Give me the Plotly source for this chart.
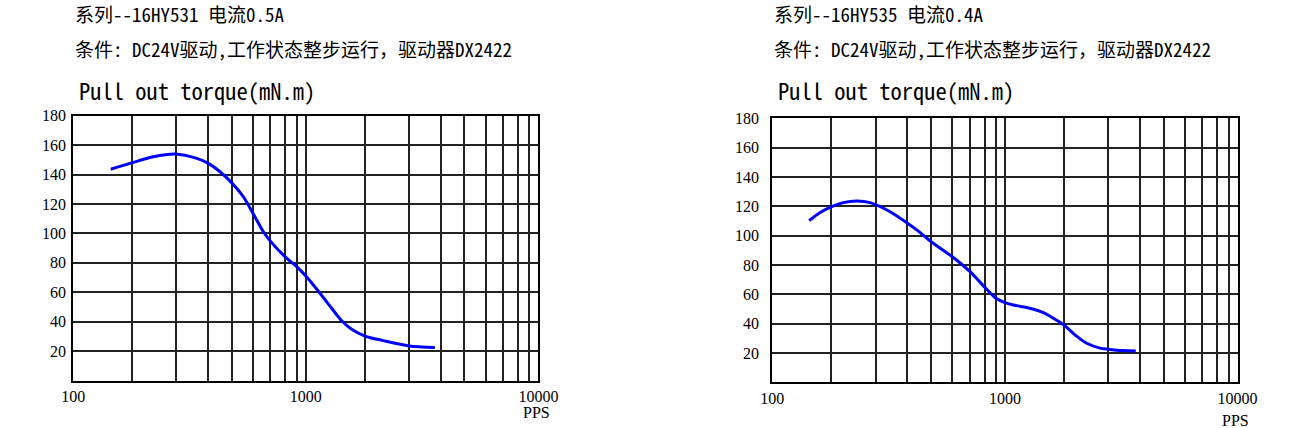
import plotly.graph_objects as go

# ---------------- data ----------------
left_title = "系列--16HY531 电流0.5A"
right_title = "系列--16HY535 电流0.4A"
condition_text = "条件: DC24V驱动,工作状态整步运行，驱动器DX2422"
y_title = "Pull out torque(mN.m)"
x_unit = "PPS"

left_pps = [145, 180, 221, 274, 340, 381, 428, 483, 539, 595, 657, 707, 820,
            914, 1000, 1151, 1292, 1427, 1575, 1797, 2154, 2778, 3590]
left_torque = [143.6, 148.1, 152.1, 154.0, 151.0, 147.6, 141.9, 134.0, 124.9,
               113.2, 101.1, 94.4, 83.7, 77.4, 71.0, 59.3, 49.1, 40.6, 34.8,
               30.2, 27.1, 23.5, 22.5]

right_pps = [144, 160, 180, 202, 231, 263, 321, 381, 427, 481, 594, 708, 827,
             915, 994, 1086, 1281, 1462, 1641, 1794, 2000, 2246, 2562, 2765,
             3226, 3650]
right_torque = [110.2, 115.6, 119.7, 122.5, 123.6, 122.5, 116.3, 108.4, 102.7,
                95.9, 85.6, 75.4, 64.1, 57.3, 54.5, 52.7, 50.5, 47.5, 43.0,
                39.1, 32.3, 26.6, 23.3, 22.6, 21.6, 21.3]

x_major = [100, 1000, 10000]
x_major_labels = ["100", "1000", "10000"]
grid_mult = [1.79, 2.78, 3.80, 4.81, 5.93, 7.05, 8.17, 9.15]
y_ticks = [20, 40, 60, 80, 100, 120, 140, 160, 180]

# ---------------- layout helpers ----------------
W, H = 1300, 428
GRID = "#222222"
CJK = "Noto Sans Mono CJK SC, Noto Sans CJK SC, sans-serif"
TICKFONT = dict(family="Liberation Serif, serif", size=16, color="black")

x_tickvals = list(x_major)
x_ticktext = list(x_major_labels)
for base in x_major[:-1]:
    for m in grid_mult:
        x_tickvals.append(base * m)
        x_ticktext.append("")


def xaxis(px0, px1):
    return dict(type="log", range=[2, 4], domain=[px0 / W, px1 / W],
                tickvals=x_tickvals, ticktext=x_ticktext, ticks="",
                showgrid=True, gridcolor=GRID, gridwidth=1.6,
                showline=True, linecolor="black", linewidth=2, mirror=True,
                tickfont=TICKFONT, zeroline=False, fixedrange=True,
                automargin=False)


def yaxis(py_bottom, py_top, standoff):
    return dict(range=[0, 180], domain=[1 - py_bottom / H, 1 - py_top / H],
                tickvals=y_ticks, ticktext=[str(v) for v in y_ticks], ticks="",
                showgrid=True, gridcolor=GRID, gridwidth=1.6,
                showline=True, linecolor="black", linewidth=2, mirror=True,
                tickfont=TICKFONT, zeroline=False, fixedrange=True,
                ticklabelstandoff=standoff, automargin=False)


fig = go.Figure()
fig.add_trace(go.Scatter(x=left_pps, y=left_torque, mode="lines",
                         line=dict(color="#0000FF", width=3, shape="spline", smoothing=0.8),
                         xaxis="x", yaxis="y", showlegend=False, hoverinfo="skip"))
fig.add_trace(go.Scatter(x=right_pps, y=right_torque, mode="lines",
                         line=dict(color="#0000FF", width=3, shape="spline", smoothing=0.8),
                         xaxis="x2", yaxis="y2", showlegend=False, hoverinfo="skip"))

L = dict(x0=73.2, x1=538.4, yb=380.5, yt=115.7)
R = dict(x0=772.3, x1=1237.6, yb=382.3, yt=118.3)

fig.update_layout(
    template="none",
    width=W, height=H,
    margin=dict(l=0, r=0, t=0, b=0, pad=0, autoexpand=False),
    paper_bgcolor="white", plot_bgcolor="white",
    xaxis=dict(xaxis(L["x0"], L["x1"]), anchor="y"),
    yaxis=dict(yaxis(L["yb"], L["yt"], 2), anchor="x"),
    xaxis2=dict(xaxis(R["x0"], R["x1"]), anchor="y2"),
    yaxis2=dict(yaxis(R["yb"], R["yt"], 8), anchor="x2"),
)

annotations = []
for blk, title, ppsy in ((L, left_title, 412), (R, right_title, 420)):
    annotations.append(dict(text=title, x=blk["x0"] / W, y=1 - 14 / H, xref="paper", yref="paper",
                            xanchor="left", yanchor="middle", showarrow=False,
                            font=dict(family=CJK, size=19, color="black")))
    annotations.append(dict(text=condition_text, x=blk["x0"] / W, y=1 - 48 / H, xref="paper", yref="paper",
                            xanchor="left", yanchor="middle", showarrow=False,
                            font=dict(family=CJK, size=19, color="black")))
    annotations.append(dict(text=y_title, x=(blk["x0"] + 4) / W, y=1 - 90 / H, xref="paper", yref="paper",
                            xanchor="left", yanchor="middle", showarrow=False,
                            font=dict(family=CJK, size=22.5, color="black")))
    annotations.append(dict(text=x_unit, x=(blk["x1"] - 2) / W, y=1 - ppsy / H, xref="paper", yref="paper",
                            xanchor="center", yanchor="middle", showarrow=False,
                            font=dict(family="Liberation Serif, serif", size=16, color="black")))
fig.update_layout(annotations=annotations)

fig.write_html("out.html", config={"displayModeBar": False, "responsive": False},
               post_script="document.body.style.margin='0px';document.body.style.overflow='hidden';")
